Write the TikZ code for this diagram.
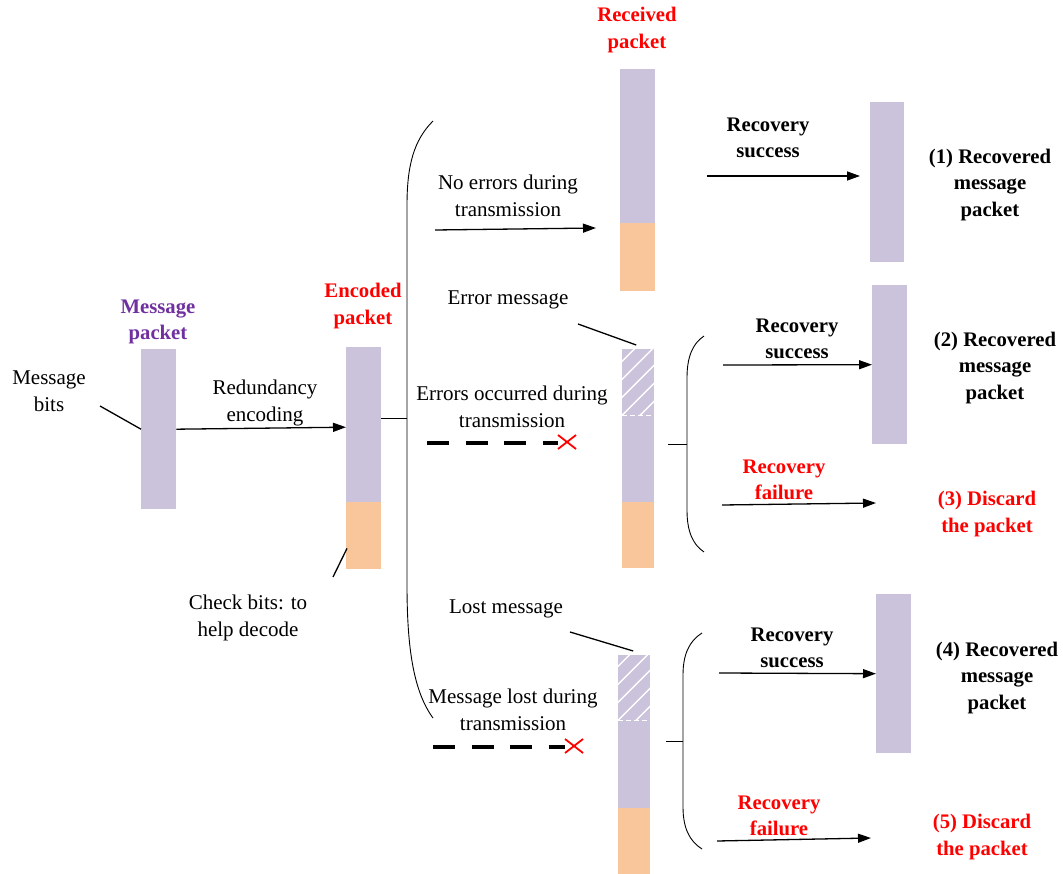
\documentclass[tikz,border=0pt]{standalone}
\usepackage{fontspec}
\setmainfont{Liberation Serif}
\usetikzlibrary{arrows.meta,calc}
\definecolor{lav}{RGB}{203,195,220}
\definecolor{ora}{RGB}{248,198,154}
\definecolor{ppl}{RGB}{112,48,160}
\begin{document}
\begin{tikzpicture}[x=1pt,y=-1pt,
  txt/.style={font=\fontsize{21}{27}\selectfont, align=center, inner sep=0pt},
  btxt/.style={font=\fontsize{20.7}{26.5}\selectfont\bfseries, align=center, inner sep=0pt},
  rtxt/.style={btxt, text=red},
  lavbar/.style={fill=lav, draw=none, inner sep=0pt, anchor=north west},
  orabar/.style={fill=ora, draw=none, inner sep=0pt, anchor=north west},
  hatchreg/.style={draw=none, fill=none, inner sep=0pt, anchor=north west},
  arr/.style={-{Triangle[length=13pt,width=9pt]}, line width=1.3pt},
  ptr/.style={line width=1.3pt},
  brace/.style={line width=0.9pt},
  lossline/.style={line width=4pt, dash pattern=on 22pt off 16.5pt},
  xmark/.style={red, line width=1.8pt},
  hatchl/.style={white, line width=1.5pt}]
\useasboundingbox (0,0) rectangle (1063,874);

% ---------- bars ----------
\node[lavbar, minimum width=35, minimum height=160] (mp) at (141,349) {};
\node[lavbar, minimum width=35, minimum height=155] (encP) at (346,347) {};
\node[orabar, minimum width=35, minimum height=67] (encO) at (346,502) {};

\node[lavbar, minimum width=35, minimum height=154] (r1P) at (620,69) {};
\node[orabar, minimum width=35, minimum height=68] (r1O) at (620,223) {};
\node[lavbar, minimum width=34, minimum height=160] (out1) at (870,102) {};

\node[lavbar, minimum width=32, minimum height=153] (r2P) at (622,349) {};
\node[orabar, minimum width=32, minimum height=66] (r2O) at (622,502) {};
\node[hatchreg, minimum width=32, minimum height=66] (r2H) at (622,349) {};
\node[lavbar, minimum width=35, minimum height=159] (out2) at (872,285) {};

\node[lavbar, minimum width=32, minimum height=153] (r3P) at (618,655) {};
\node[orabar, minimum width=32, minimum height=66] (r3O) at (618,808) {};
\node[hatchreg, minimum width=32, minimum height=65] (r3H) at (618,655) {};
\node[lavbar, minimum width=35, minimum height=159] (out4) at (876,594) {};

% ---------- hatching ----------
\begin{scope}
  \clip (r2H.south west) rectangle (r2H.north east);
  \foreach \k in {-4,...,3} \draw[hatchl] ($(r2H.south west)+(\k*18,0)$) -- ++(80,-80);
\end{scope}
\draw[white, line width=1.2pt, dash pattern=on 5pt off 3pt] (r2H.south west) -- (r2H.south east);
\begin{scope}
  \clip (r3H.south west) rectangle (r3H.north east);
  \foreach \k in {-4,...,3} \draw[hatchl] ($(r3H.south west)+(\k*18,0)$) -- ++(80,-80);
\end{scope}
\draw[white, line width=1.2pt, dash pattern=on 5pt off 3pt] (r3H.south west) -- (r3H.south east);

% ---------- texts ----------
\node[btxt, text=ppl] (tmp) at (158,322) {Message\\packet};
\node[rtxt] (tenc) at (363,306) {Encoded\\packet};
\node[rtxt] (trec) at (637,30) {Received\\packet};
\node[txt] (tmb) at (49,391) {Message\\bits};
\node[txt] (tred) at (265,403) {Redundancy\\encoding};
\node[txt] (tchk) at (248,618) {Check bits: to\\help decode};
\node[txt] (tnoe) at (508,196) {No errors during\\transmission};
\node[txt] (terrm) at (508,300) {Error message};
\node[txt] (terr) at (512,407) {Errors occurred during\\transmission};
\node[txt] (tlost) at (506,609) {Lost message};
\node[txt] (tml) at (513,710) {Message lost during\\transmission};

\node[btxt] (trs1) at (768,138) {Recovery\\success};
\node[btxt] (to1) at (990,185) {(1) Recovered\\message\\packet};
\node[btxt] (trs2) at (797,339) {Recovery\\success};
\node[btxt] (to2) at (995,368) {(2) Recovered\\message\\packet};
\node[rtxt] (trf3) at (784,480) {Recovery\\failure};
\node[rtxt] (to3) at (987,514) {(3) Discard\\the packet};
\node[btxt] (trs4) at (792,648) {Recovery\\success};
\node[btxt] (to4) at (997,678) {(4) Recovered\\message\\packet};
\node[rtxt] (trf5) at (779,816) {Recovery\\failure};
\node[rtxt] (to5) at (982,837) {(5) Discard\\the packet};

% ---------- coordinates ----------
\coordinate (mbp) at (100,406);
\coordinate (cbp) at (333,577);
\coordinate (emp) at (578,324);
\coordinate (lmp) at (570,632);
\coordinate (brA) at (407,418);
\coordinate (ne1) at (435,230);
\coordinate (ne2) at (596,228);
\coordinate (rs1a) at (707,176);
\coordinate (rs1b) at (860,176);
\coordinate (rs2a) at (723,365);
\coordinate (rf3a) at (722,505);
\coordinate (rf3b) at (876,503);
\coordinate (rs4a) at (719,673);
\coordinate (rf5a) at (717,841);
\coordinate (rf5b) at (871,838);
\coordinate (tk2a) at (668,444);
\coordinate (tk2b) at (687,444);
\coordinate (tk3a) at (666,741);
\coordinate (tk3b) at (683,741);
\coordinate (d1a) at (427,443);
\coordinate (x1) at (567,442);
\coordinate (d2a) at (433,747);
\coordinate (x2) at (574,746);

% ---------- pointer lines ----------
\draw[ptr] (mbp) -- (mp.west);
\draw[ptr] (cbp) -- ($(encO.south west)+(1,-21)$);
\draw[ptr] (emp) -- ($(r2H.north)+(-2,-4)$);
\draw[ptr] (lmp) -- ($(r3H.north)+(-1,-4)$);

% ---------- arrows ----------
\draw[arr] (mp.east) -- ($(encP.west)+(0,2.5)$);
\draw[arr] (ne1) -- (ne2);
\draw[arr] (rs1a) -- (rs1b);
\draw[arr] (rs2a) -- (out2.west);
\draw[arr] (rf3a) -- (rf3b);
\draw[arr] (rs4a) -- (out4.west);
\draw[arr] (rf5a) -- (rf5b);

% ---------- braces ----------
\draw[brace] (encP.east |- brA) -- (brA);
\draw[brace] (433,121) .. controls (414,140) and (407,165) .. (407,205) -- (407,585) .. controls (407,650) and (414,692) .. (433,718);
\draw[brace] (tk2a) -- (tk2b);
\draw[brace] (704,336) .. controls (692,344) and (687,358) .. (687,378) -- (687,510) .. controls (687,530) and (692,544) .. (704,552);
\draw[brace] (tk3a) -- (tk3b);
\draw[brace] (702,633) .. controls (689,641) and (683,655) .. (683,675) -- (683,807) .. controls (683,827) and (689,841) .. (702,849);

% ---------- lost / error transmissions ----------
\draw[lossline] (d1a) -- ($(x1)+(-9,1)$);
\draw[xmark] ($(x1)+(-9,-7)$) -- ($(x1)+(9,7)$);
\draw[xmark] ($(x1)+(-9,7)$) -- ($(x1)+(9,-7)$);
\draw[lossline] (d2a) -- ($(x2)+(-9,1)$);
\draw[xmark] ($(x2)+(-9,-7)$) -- ($(x2)+(9,7)$);
\draw[xmark] ($(x2)+(-9,7)$) -- ($(x2)+(9,-7)$);
\end{tikzpicture}
\end{document}
